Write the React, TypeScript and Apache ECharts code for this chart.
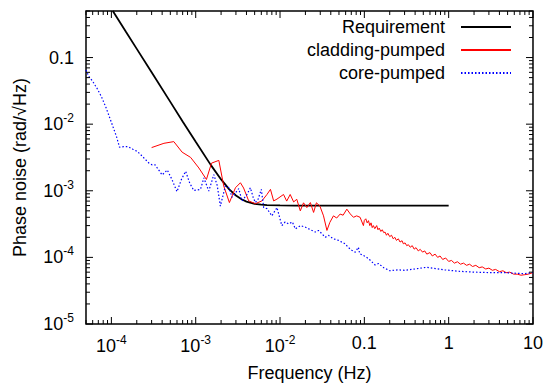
import React, { useEffect, useRef } from 'react';
import * as echarts from 'echarts';

const FONT = '"Liberation Sans", Arial, Helvetica, sans-serif';

const X_MIN = 5e-5;
const X_MAX = 10;
const Y_MIN = 1e-5;
const Y_MAX = 0.5;

const xMajorTicks = [1e-4, 1e-3, 1e-2, 0.1, 1, 10];
const xTickLabels = ['{b|10}{s|-4}', '{b|10}{s|-3}', '{b|10}{s|-2}', '0.1', '1', '10'];
const yMajorTicks = [1e-5, 1e-4, 1e-3, 1e-2, 0.1];
const yTickLabels = ['{b|10}{s|-5}', '{b|10}{s|-4}', '{b|10}{s|-3}', '{b|10}{s|-2}', '0.1'];

const seriesNames = ['Requirement', 'cladding-pumped', 'core-pumped'];

// Requirement [frequency Hz, rad/sqrtHz]
const requirement: [number, number][] = [
  [1.04e-4, 0.5], [1.5e-4, 0.24], [2e-4, 0.135], [3e-4, 0.06], [5e-4, 0.0216],
  [7e-4, 0.011], [1e-3, 5.43e-3], [1.5e-3, 2.47e-3], [2e-3, 1.48e-3], [2.5e-3, 1.05e-3],
  [3e-3, 8.49e-4], [3.5e-3, 7.45e-4], [4e-3, 6.88e-4], [5e-3, 6.38e-4], [6e-3, 6.18e-4],
  [7e-3, 6.1e-4], [1e-2, 6.02e-4], [1.5e-2, 6.0e-4], [1, 6.0e-4],
];

// cladding-pumped
const cladding: [number, number][] = [
  [3.0e-4, 4.45e-3], [4.2e-4, 5.16e-3], [5.5e-4, 5.47e-3], [6.9e-4, 3.8e-3], [8.7e-4, 3.17e-3],
  [1.09e-3, 2.2e-3], [1.34e-3, 1.48e-3], [1.54e-3, 2.6e-3], [1.88e-3, 2.86e-3], [2.15e-3, 1.18e-3],
  [2.51e-3, 6.65e-4], [2.96e-3, 1.11e-3], [3.39e-3, 1.32e-3], [3.7e-3, 1.1e-3], [4.25e-3, 7.05e-4],
  [5.1e-3, 6.4e-4], [6.1e-3, 7.05e-4], [7.0e-3, 8.8e-4], [7.7e-3, 1.05e-3], [8.4e-3, 7.05e-4],
  [9.2e-3, 7.5e-4], [1.1e-2, 8.8e-4], [1.2e-2, 7.0e-4], [1.32e-2, 8.8e-4], [1.45e-2, 6.8e-4],
  [1.58e-2, 7.45e-4], [1.74e-2, 5.0e-4], [1.9e-2, 6.6e-4], [2.08e-2, 5.6e-4], [2.29e-2, 6.65e-4],
  [2.5e-2, 4.73e-4], [2.7e-2, 6.6e-4], [2.97e-2, 5.9e-4], [3.28e-2, 4.2e-4], [3.6e-2, 2.54e-4],
  [3.9e-2, 3.36e-4], [4.3e-2, 4.2e-4], [4.7e-2, 3.9e-4], [5.16e-2, 4.47e-4], [5.6e-2, 4.3e-4],
  [6.2e-2, 5.3e-4], [6.8e-2, 4.5e-4], [7.43e-2, 4.0e-4], [8.1e-2, 4.2e-4], [8.9e-2, 4.0e-4],
  [9.75e-2, 3.0e-4], [0.1, 3.6e-4], [0.104, 3.8e-4], [0.108, 3.3e-4], [0.112, 3.56e-4],
  [0.116, 3.0e-4], [0.12, 3.3e-4], [0.124, 2.8e-4], [0.128, 3.0e-4], [0.133, 2.7e-4],
  [0.14, 3.0e-4], [0.145, 2.6e-4], [0.15, 2.75e-4], [0.157, 2.45e-4], [0.163, 2.6e-4],
  [0.17, 2.35e-4], [0.176, 2.4e-4], [0.183, 2.15e-4], [0.19, 2.3e-4], [0.2, 2.05e-4],
  [0.21, 2.15e-4], [0.22, 1.9e-4], [0.23, 2.0e-4], [0.24, 1.8e-4], [0.253, 1.9e-4],
  [0.265, 1.7e-4], [0.28, 1.78e-4], [0.29, 1.6e-4], [0.304, 1.65e-4], [0.318, 1.5e-4],
  [0.333, 1.55e-4], [0.35, 1.42e-4], [0.37, 1.5e-4], [0.39, 1.33e-4], [0.41, 1.4e-4],
  [0.436, 1.25e-4], [0.46, 1.32e-4], [0.49, 1.2e-4], [0.52, 1.25e-4], [0.55, 1.12e-4],
  [0.6, 1.18e-4], [0.64, 1.05e-4], [0.69, 1.12e-4], [0.74, 1.0e-4], [0.79, 1.05e-4],
  [0.85, 9.3e-5], [0.92, 9.8e-5], [1.0, 8.7e-5], [1.08, 9.0e-5], [1.17, 8.2e-5],
  [1.27, 8.6e-5], [1.38, 7.9e-5], [1.5, 8.2e-5], [1.63, 7.6e-5], [1.77, 7.9e-5],
  [1.92, 7.3e-5], [2.1, 7.6e-5], [2.3, 7.0e-5], [2.5, 7.2e-5], [2.75, 6.7e-5],
  [3.0, 6.9e-5], [3.3, 6.4e-5], [3.6, 6.6e-5], [4.0, 6.1e-5], [4.4, 6.3e-5],
  [4.8, 5.9e-5], [5.3, 6.0e-5], [5.9, 5.6e-5], [6.5, 5.6e-5], [7.2, 5.4e-5],
  [8.0, 5.5e-5], [8.8, 5.6e-5], [10, 5.9e-5],
];

// core-pumped
const core: [number, number][] = [
  [5.0e-5, 0.065], [5.4e-5, 0.052], [6.0e-5, 0.044], [6.8e-5, 0.034], [7.6e-5, 0.026],
  [8.6e-5, 0.018], [1.03e-4, 9.6e-3], [1.15e-4, 6.5e-3], [1.25e-4, 4.5e-3], [1.4e-4, 4.6e-3],
  [1.58e-4, 4.6e-3], [1.8e-4, 4.2e-3], [2.03e-4, 3.9e-3], [2.22e-4, 3.5e-3], [2.5e-4, 3.0e-3],
  [2.79e-4, 2.6e-3], [3.05e-4, 2.45e-3], [3.3e-4, 2.45e-3], [3.5e-4, 2.2e-3], [4.0e-4, 1.73e-3],
  [4.6e-4, 2.05e-3], [5.2e-4, 1.5e-3], [6.0e-4, 9.7e-4], [6.8e-4, 1.5e-3], [7.6e-4, 1.96e-3],
  [8.5e-4, 1.3e-3], [9.5e-4, 1.01e-3], [1.14e-3, 1.05e-3], [1.25e-3, 1.56e-3], [1.43e-3, 9.9e-4],
  [1.64e-3, 1.75e-3], [1.8e-3, 1.2e-3], [1.96e-3, 5.9e-4], [2.25e-3, 1.18e-3], [2.47e-3, 1.11e-3],
  [2.7e-3, 8.0e-4], [3.24e-3, 1.08e-3], [3.54e-3, 7.05e-4], [4.06e-3, 8.8e-4], [4.45e-3, 1.11e-3],
  [4.8e-3, 8.0e-4], [5.1e-3, 6.65e-4], [5.5e-3, 7.5e-4], [6.0e-3, 1.05e-3], [6.4e-3, 5.6e-4],
  [7.0e-3, 5.4e-4], [8.0e-3, 4.2e-4], [9.2e-3, 5.6e-4], [1.05e-2, 3.0e-4], [1.15e-2, 3.4e-4],
  [1.26e-2, 3.18e-4], [1.4e-2, 3.4e-4], [1.52e-2, 2.68e-4], [1.75e-2, 3.0e-4], [2.0e-2, 2.84e-4],
  [2.3e-2, 2.6e-4], [2.62e-2, 2.4e-4], [2.86e-2, 2.54e-4], [3.1e-2, 2.3e-4], [3.44e-2, 2.0e-4],
  [3.76e-2, 2.14e-4], [4.3e-2, 1.9e-4], [4.93e-2, 1.8e-4], [5.9e-2, 1.6e-4], [6.5e-2, 1.4e-4],
  [7.1e-2, 1.28e-4], [7.8e-2, 1.2e-4], [8.5e-2, 1.42e-4], [8.8e-2, 1.14e-4], [0.1, 1.05e-4],
  [0.112, 9.6e-5], [0.134, 7.7e-5], [0.147, 8.1e-5], [0.17, 7.0e-5], [0.2, 6.3e-5],
  [0.25, 6.5e-5], [0.3, 6.4e-5], [0.4, 6.7e-5], [0.55, 7.1e-5], [0.7, 6.8e-5],
  [0.9, 6.5e-5], [1.3, 6.2e-5], [2.0, 6.0e-5], [3.2, 5.9e-5], [4.6, 5.9e-5],
  [6.0, 5.8e-5], [8.0, 5.7e-5], [10, 5.9e-5],
];

function buildTicks(): number[][] {
  const out: number[][] = [];
  for (let e = -5; e <= 1; e++) {
    for (let m = 1; m <= 9; m++) {
      const v = m * Math.pow(10, e);
      if (v >= X_MIN * 0.999 && v <= X_MAX * 1.001) out.push([v, Y_MIN, 0, m === 1 ? 1 : 0]);
      if (v >= Y_MIN * 0.999 && v <= Y_MAX * 1.001) out.push([X_MIN, v, 1, m === 1 ? 1 : 0]);
    }
  }
  return out;
}

function labelFor(v: number, ticks: number[], labels: string[]) {
  for (let i = 0; i < ticks.length; i++) {
    if (Math.abs(Math.log10(v) - Math.log10(ticks[i])) < 1e-6) return labels[i];
  }
  return '';
}

const rich = {
  b: { fontSize: 18, fontFamily: FONT, color: '#000' },
  s: { fontSize: 12, fontFamily: FONT, color: '#000', padding: [0, 0, 12, 0] },
};

export default function App() {
  const ref = useRef<HTMLDivElement>(null);
  useEffect(() => {
    if (!ref.current) return;
    const chart = echarts.init(ref.current, undefined, { renderer: 'svg' });
    const tickData = buildTicks();
    chart.setOption({
      animation: false,
      backgroundColor: '#fff',
      grid: { left: 86, right: 13, top: 11, bottom: 60, show: true, borderColor: '#000', borderWidth: 1.5, backgroundColor: 'transparent' },
      legend: {
        orient: 'vertical', right: 34, top: 18, padding: 0, align: 'right',
        itemWidth: 50, itemHeight: 14, itemGap: 5,
        itemStyle: { opacity: 0 },
        textStyle: { fontSize: 18, fontFamily: FONT, color: '#000', padding: [0, 11, 0, 0] },
        data: seriesNames,
      },
      xAxis: {
        type: 'log', logBase: 10, min: X_MIN, max: X_MAX,
        name: 'Frequency (Hz)', nameLocation: 'middle', nameGap: 40,
        nameTextStyle: { fontSize: 18, fontFamily: FONT, color: '#000' },
        axisLine: { show: false }, axisTick: { show: false }, splitLine: { show: false },
        axisLabel: {
          margin: 10, fontSize: 18, fontFamily: FONT, color: '#000', rich,
          formatter: (v: number) => labelFor(v, xMajorTicks, xTickLabels),
        },
      },
      yAxis: {
        type: 'log', logBase: 10, min: Y_MIN, max: Y_MAX,
        name: 'Phase noise (rad/\u221AHz)', nameLocation: 'middle', nameGap: 57, nameRotate: 90,
        nameTextStyle: { fontSize: 18, fontFamily: FONT, color: '#000' },
        axisLine: { show: false }, axisTick: { show: false }, splitLine: { show: false },
        axisLabel: {
          margin: 12, fontSize: 18, fontFamily: FONT, color: '#000', rich,
          formatter: (v: number) => labelFor(v, yMajorTicks, yTickLabels),
        },
      },
      series: [
        {
          name: seriesNames[0], type: 'line', symbol: 'none', showSymbol: false,
          data: requirement, lineStyle: { color: '#000', width: 1.8 }, itemStyle: { color: '#000' },
        },
        {
          name: seriesNames[1], type: 'line', symbol: 'none', showSymbol: false,
          data: cladding, lineStyle: { color: '#ff0000', width: 1 }, itemStyle: { color: '#ff0000' },
        },
        {
          name: seriesNames[2], type: 'line', symbol: 'none', showSymbol: false,
          data: core, lineStyle: { color: '#0000ff', width: 1.2, type: [1.5, 2] }, itemStyle: { color: '#0000ff' },
        },
        {
          name: 'ticks', type: 'custom', silent: true, clip: false, z: 10,
          encode: { x: 0, y: 1 },
          data: tickData,
          renderItem: (params: any, api: any) => {
            const kind = api.value(2);
            const len = api.value(3) === 1 ? 7 : 4;
            const style = { stroke: '#000', lineWidth: 1 };
            if (kind === 0) {
              const b = api.coord([api.value(0), Y_MIN]);
              const t = api.coord([api.value(0), Y_MAX]);
              return {
                type: 'group', children: [
                  { type: 'line', shape: { x1: b[0], y1: b[1], x2: b[0], y2: b[1] - len }, style },
                  { type: 'line', shape: { x1: t[0], y1: t[1], x2: t[0], y2: t[1] + len }, style },
                ],
              };
            }
            const l = api.coord([X_MIN, api.value(1)]);
            const r = api.coord([X_MAX, api.value(1)]);
            return {
              type: 'group', children: [
                { type: 'line', shape: { x1: l[0], y1: l[1], x2: l[0] + len, y2: l[1] }, style },
                { type: 'line', shape: { x1: r[0], y1: r[1], x2: r[0] - len, y2: r[1] }, style },
              ],
            };
          },
        },
      ],
    });
    return () => chart.dispose();
  }, []);
  return <div ref={ref} style={{ position: 'fixed', left: 0, top: 0, width: 546, height: 387 }} />;
}
